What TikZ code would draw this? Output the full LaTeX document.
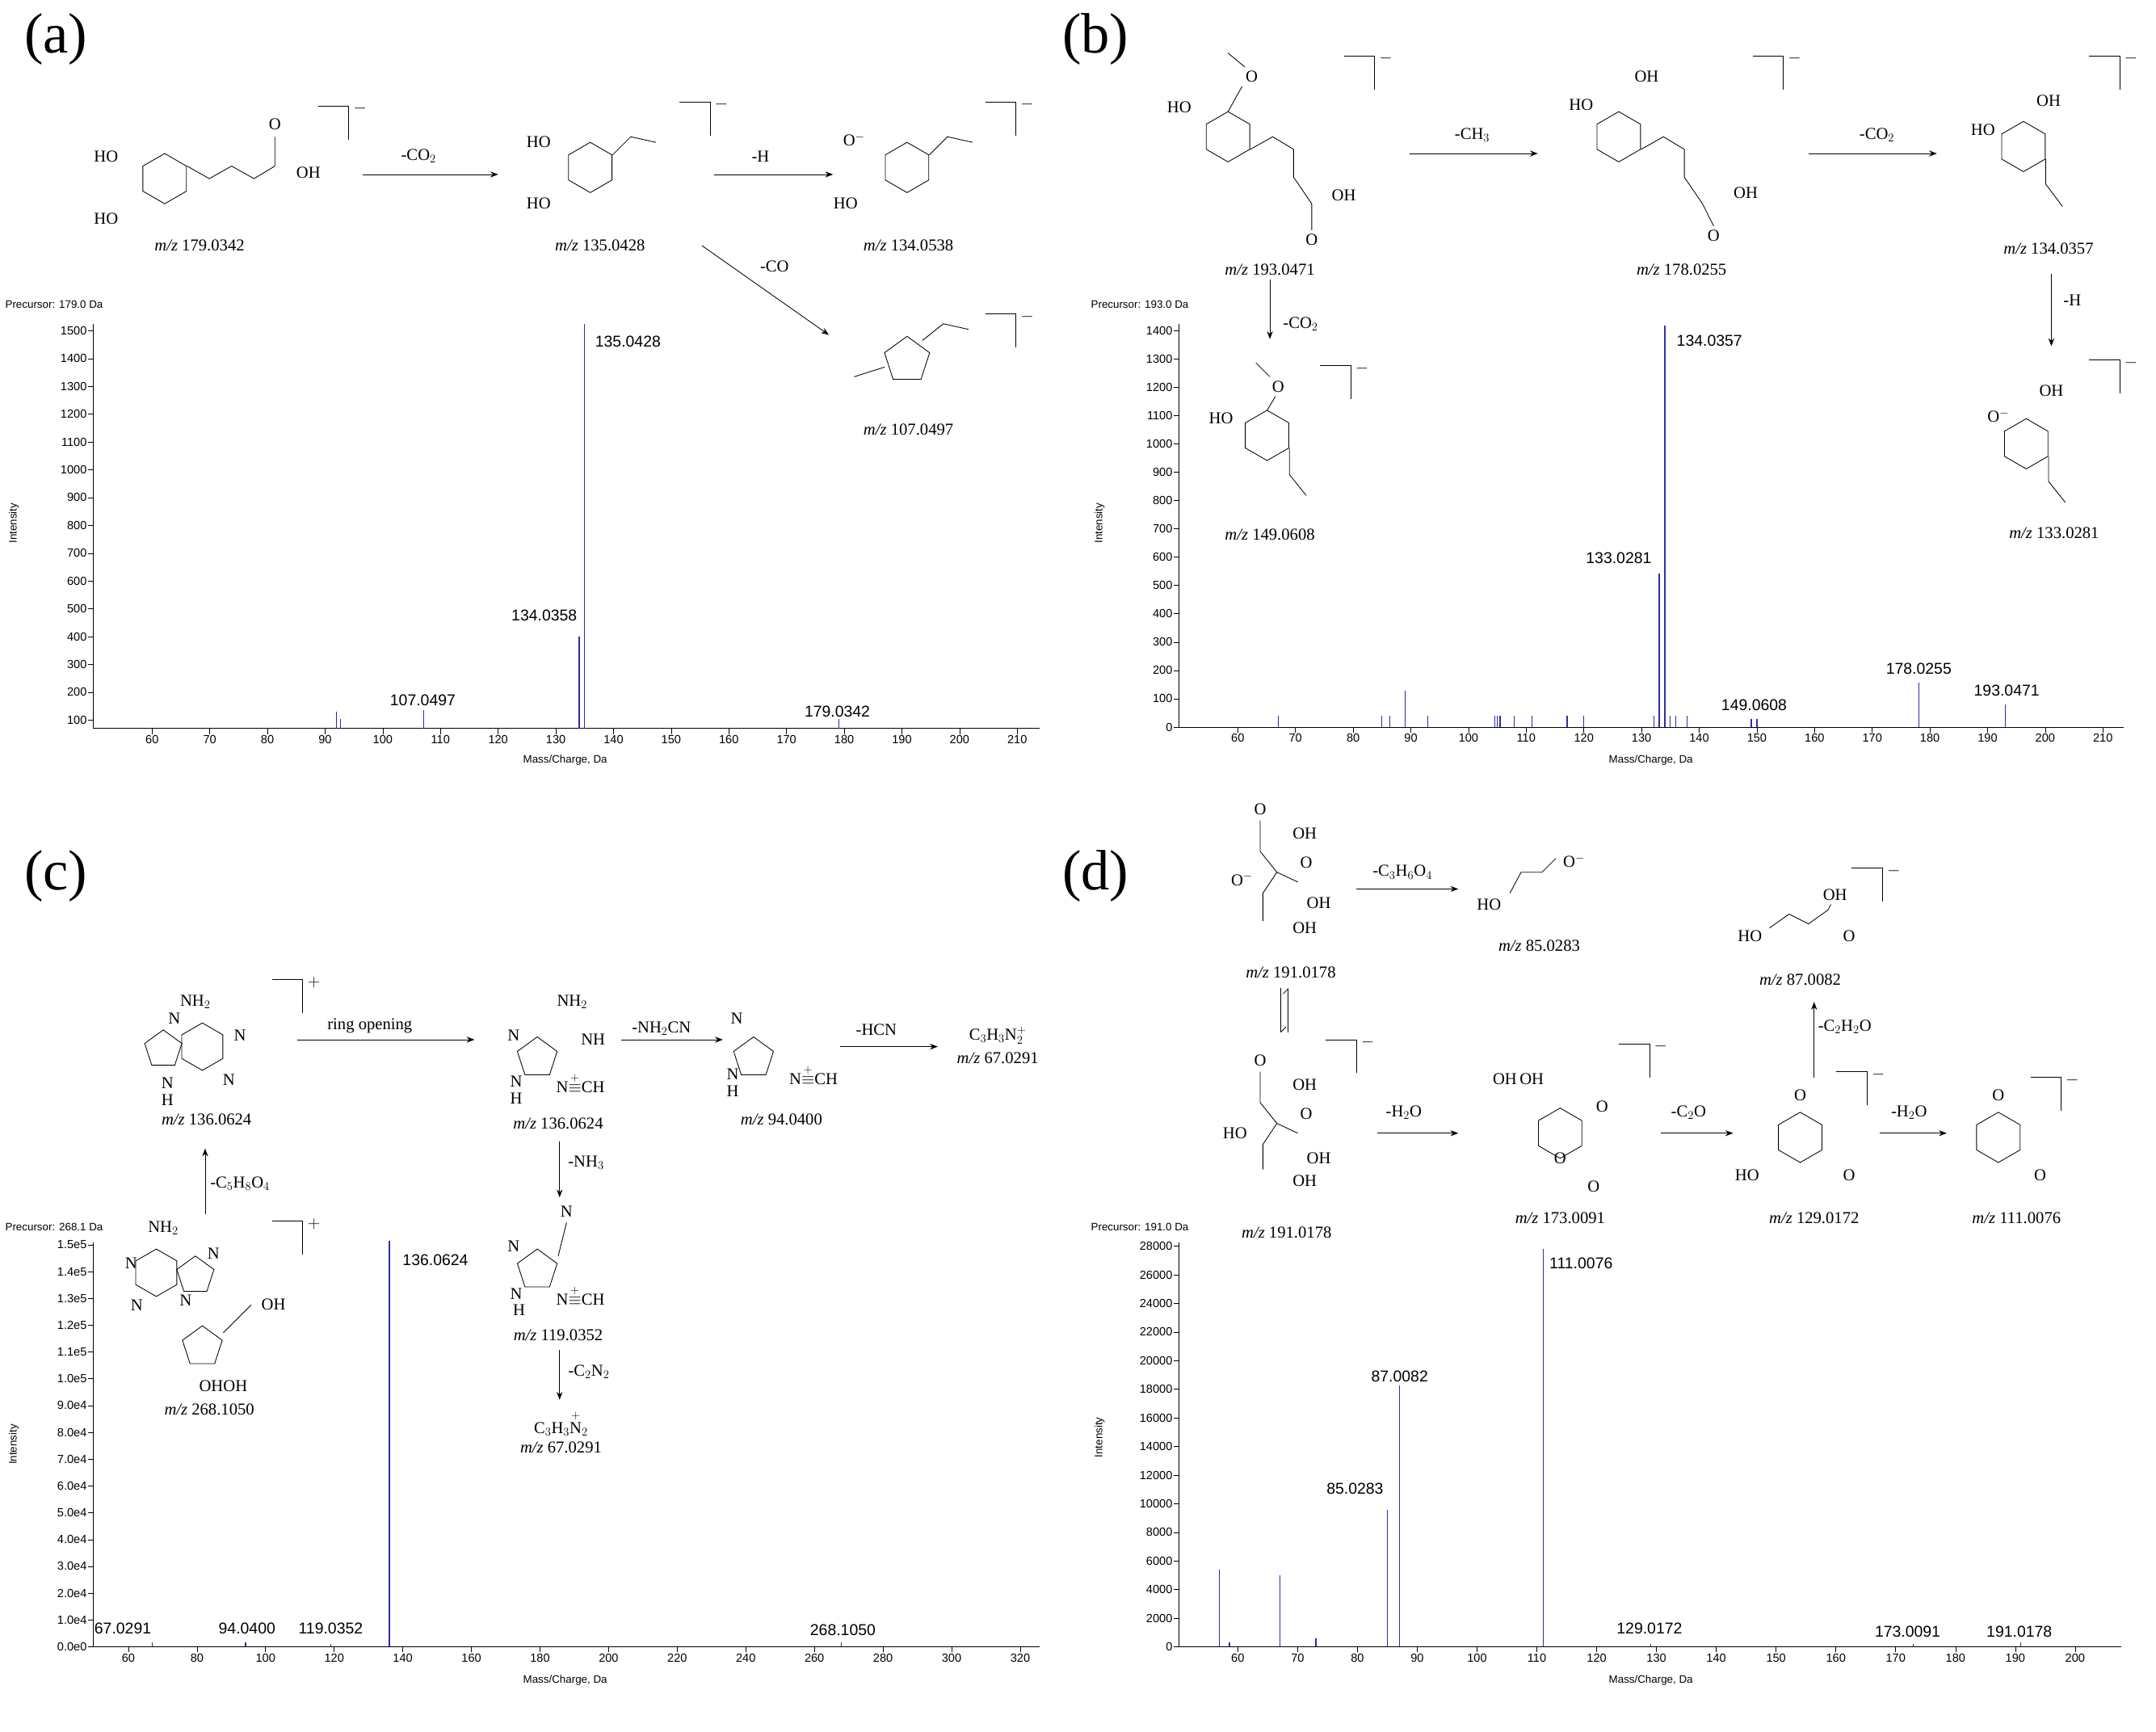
\documentclass[tikz,border=0pt]{standalone}
\usepackage{amsmath}
\usepackage{fontspec}
\setmainfont{Liberation Serif}
\setsansfont{Liberation Sans}
\usetikzlibrary{arrows.meta}
\definecolor{peakblue}{HTML}{2E2EA8}
\tikzset{
	lbl/.style = {inner sep=0.5pt, font=\fontsize{17}{19}\selectfont},
	mz/.style = {inner sep=0pt, font=\fontsize{17}{19}\selectfont},
	panel/.style = {inner sep=0pt, font=\fontsize{58}{60}\selectfont},
	tick/.style = {inner sep=1pt, font=\sffamily\fontsize{12}{13}\selectfont},
	plbl/.style = {inner sep=1pt, font=\sffamily\fontsize{16}{17}\selectfont},
	axisline/.style = {line width=0.5pt, black},
	peak/.style = {line width=1pt, peakblue},
	bond/.style = {line width=0.7pt},
	rxn/.style = {line width=0.7pt, -{Stealth[length=8pt]}}
}
\newcommand\hexring[3]{\draw[bond] (#1,#2) +(0,-#3) -- +(0.866*#3,-0.5*#3) -- +(0.866*#3,0.5*#3) -- +(0,#3) -- +(-0.866*#3,0.5*#3) -- +(-0.866*#3,-0.5*#3) -- cycle;}
\newcommand\pentring[3]{\draw[bond] (#1,#2) +(0,-#3) -- +(0.951*#3,-0.309*#3) -- +(0.588*#3,0.809*#3) -- +(-0.588*#3,0.809*#3) -- +(-0.951*#3,-0.309*#3) -- cycle;}
\newcommand\brkt[3]{\draw[bond] (#1,#2) -- ++(22,0) -- ++(0,24); \node[lbl] at (#1+30,#2+2) {$#3$};}
\newcommand\mzt[3]{\node[mz] at (#1,#2) {\textit{m/z} #3};}

\begin{document}
\begin{tikzpicture}[x=0.5mm, y=-0.5mm]
\useasboundingbox (0,0) rectangle (1545,1241);

% ---------- panel labels
\node[panel] (pa) at (40,28) {(a)};
\node[panel] (pb) at (785,28) {(b)};
\node[panel] (pc) at (40,628) {(c)};
\node[panel] (pd) at (785,628) {(d)};

% ---------- (a) structures
\hexring{118}{128}{18}
\node[lbl] (a1ho1) at (76,112) {HO};
\node[lbl] (a1ho2) at (76,157) {HO};
\draw[bond] (134,119) -- (150,128) -- (166,119) -- (182,128) -- (197,119) -- (197,98);
\node[lbl] (a1o) at (197,89) {O};
\node[lbl] (a1oh) at (221,124) {OH};
\brkt{228}{76}{-}
\mzt{143}{176}{179.0342}
\node[lbl] (a1loss) at (300,112) {-CO$_2$};
\draw[rxn] (260,125) -- (357,125);
\hexring{423}{120}{18}
\node[lbl] (a2ho1) at (386,102) {HO};
\node[lbl] (a2ho2) at (386,146) {HO};
\draw[bond] (439,111) -- (452,98) -- (470,102);
\brkt{487}{73}{-}
\mzt{430}{176}{135.0428}
\node[lbl] (a2loss) at (545,112) {-H};
\draw[rxn] (512,125) -- (597,125);
\hexring{650}{120}{18}
\node[lbl] (a3o) at (612,100) {O$^{-}$};
\node[lbl] (a3ho) at (606,146) {HO};
\draw[bond] (666,111) -- (679,98) -- (697,102);
\brkt{706}{73}{-}
\mzt{651}{176}{134.0538}
\node[lbl] (a3loss) at (555,191) {-CO};
\draw[rxn] (503,176) -- (594,240);
\pentring{650}{258}{17}
\draw[bond] (634,263) -- (612,270);
\draw[bond] (661,244) -- (676,232) -- (694,236);
\brkt{706}{225}{-}
\mzt{651}{308}{107.0497}

% ---------- (a) spectrum
\node[plbl, anchor=west, font=\sffamily\fontsize{11}{12}\selectfont] (aprec) at (3,218) {Precursor: 179.0 Da};
\node[plbl, rotate=90, font=\sffamily\fontsize{11}{12}\selectfont] (aint) at (10,375) {Intensity};
\node[plbl, font=\sffamily\fontsize{11}{12}\selectfont] (amass) at (405,545) {Mass/Charge, Da};
\draw[axisline] (67,232) -- (67,522) -- (745,522);
\foreach \m in {60,70,...,210} {
	\pgfmathsetmacro\xx{109+(\m-60)*4.133}
	\draw[axisline] (\xx,522) -- (\xx,526);
	\node[tick, anchor=north] at (\xx,526) {\m};
}
\foreach \v in {100,200,...,1500} {
	\pgfmathsetmacro\yy{516-(\v-100)*0.1993}
	\draw[axisline] (63,\yy) -- (67,\yy);
	\node[tick, anchor=east] at (63,\yy) {\v};
}
\foreach \px/\py in {241/510, 244/515, 303.5/509, 415/456, 419/232, 601/515}
	\draw[peak] (\px,522) -- (\px,\py);
\node[plbl] (a107) at (303,502) {107.0497};
\node[plbl] (a134) at (390,441) {134.0358};
\node[plbl] (a135) at (450,245) {135.0428};
\node[plbl] (a179) at (600,510) {179.0342};

% ---------- (b) structures
\hexring{880}{98}{18}
\node[lbl] (b1ho) at (845,77) {HO};
\node[lbl] (b1o) at (897,55) {O};
\draw[bond] (880,80) -- (890,62); \draw[bond] (892,48) -- (880,38);
\draw[bond] (896,107) -- (912,98) -- (927,107) -- (927,127) -- (940,146) -- (940,165);
\node[lbl] (b1oo) at (940,172) {O};
\node[lbl] (b1oh) at (963,140) {OH};
\brkt{963}{40}{-}
\mzt{910}{193}{193.0471}
\node[lbl] (b1loss) at (1055,97) {-CH$_3$};
\draw[rxn] (1010,110) -- (1102,110);
\hexring{1160}{98}{18}
\node[lbl] (b2ho) at (1133,75) {HO};
\node[lbl] (b2oh) at (1180,55) {OH};
\draw[bond] (1176,107) -- (1192,98) -- (1207,107) -- (1207,127) -- (1220,146) -- (1228,162);
\node[lbl] (b2oo) at (1228,169) {O};
\node[lbl] (b2oh2) at (1251,138) {OH};
\brkt{1256}{40}{-}
\mzt{1205}{193}{178.0255}
\node[lbl] (b2loss) at (1345,97) {-CO$_2$};
\draw[rxn] (1296,110) -- (1388,110);
\hexring{1450}{105}{18}
\node[lbl] (b3ho) at (1421,93) {HO};
\node[lbl] (b3oh) at (1468,72) {OH};
\draw[bond] (1466,114) -- (1466,132) -- (1478,148);
\brkt{1497}{40}{-}
\mzt{1468}{178}{134.0357}
\node[lbl] (b3loss) at (1485,215) {-H};
\draw[rxn] (1470,196) -- (1470,248);
\hexring{1452}{318}{18}
\node[lbl] (b4o) at (1432,298) {O$^{-}$};
\node[lbl] (b4oh) at (1470,280) {OH};
\draw[bond] (1468,327) -- (1468,345) -- (1480,360);
\brkt{1497}{258}{-}
\mzt{1472}{382}{133.0281}
\node[lbl] (b5loss) at (932,232) {-CO$_2$};
\draw[rxn] (910,200) -- (910,243);
\hexring{908}{312}{18}
\node[lbl] (b5ho) at (875,300) {HO};
\node[lbl] (b5o) at (916,277) {O};
\draw[bond] (908,294) -- (914,284); \draw[bond] (910,270) -- (900,260);
\draw[bond] (924,321) -- (924,340) -- (936,355);
\brkt{946}{262}{-}
\mzt{910}{383}{149.0608}

% ---------- (b) spectrum
\node[plbl, anchor=west, font=\sffamily\fontsize{11}{12}\selectfont] (bprec) at (781,218) {Precursor: 193.0 Da};
\node[plbl, rotate=90, font=\sffamily\fontsize{11}{12}\selectfont] (bint) at (788,375) {Intensity};
\node[plbl, font=\sffamily\fontsize{11}{12}\selectfont] (bmass) at (1183,545) {Mass/Charge, Da};
\draw[axisline] (845,232) -- (845,521) -- (1522,521);
\foreach \m in {60,70,...,210} {
	\pgfmathsetmacro\xx{887+(\m-60)*4.133}
	\draw[axisline] (\xx,521) -- (\xx,525);
	\node[tick, anchor=north] at (\xx,525) {\m};
}
\foreach \v in {0,100,...,1400} {
	\pgfmathsetmacro\yy{521-\v*0.203}
	\draw[axisline] (841,\yy) -- (845,\yy);
	\node[tick, anchor=east] at (841,\yy) {\v};
}
\foreach \px/\py in {916/513, 990/513, 996/513, 1007/495, 1023/513, 1071/513, 1073/513, 1075/513, 1085/513, 1098/513, 1123/513, 1135/513, 1185/513, 1189/411, 1193/233, 1197/513, 1201/513, 1209/513, 1255/515, 1259/515, 1375/489, 1437/505}
	\draw[peak] (\px,521) -- (\px,\py);
\node[plbl] (b133) at (1160,400) {133.0281};
\node[plbl] (b134) at (1225,244) {134.0357};
\node[plbl] (b149) at (1257,505) {149.0608};
\node[plbl] (b178) at (1375,479) {178.0255};
\node[plbl] (b193) at (1438,495) {193.0471};

% ---------- (c) structures
\hexring{145}{750}{17}
\pentring{117}{752}{14}
\node[lbl] (c1nh2) at (140,718) {NH$_2$};
\node[lbl] (c1n1) at (125,730) {N};
\node[lbl] (c1n2) at (172,742) {N};
\node[lbl] (c1n3) at (164,774) {N};
\node[lbl] (c1nh) at (120,776) {N};
\node[lbl] (c1h) at (120,788) {H};
\brkt{195}{702}{+}
\mzt{148}{802}{136.0624}
\node[lbl] (c1loss) at (265,735) {ring opening};
\draw[rxn] (213,745) -- (340,745);
\pentring{385}{758}{15}
\node[lbl] (c2nh2) at (410,718) {NH$_2$};
\node[lbl] (c2nh) at (425,745) {NH};
\node[lbl] (c2n) at (368,742) {N};
\node[lbl] (c2h) at (370,775) {N};
\node[lbl] (c2hh) at (370,787) {H};
\node[lbl] (c2nc) at (416,776) {N$\stackrel{+}{\equiv}$CH};
\mzt{400}{805}{136.0624}
\node[lbl] (c2loss) at (474,737) {-NH$_2$CN};
\draw[rxn] (445,745) -- (518,745);
\pentring{540}{758}{15}
\node[lbl] (c3n) at (528,730) {N};
\node[lbl] (c3h) at (525,770) {N};
\node[lbl] (c3hh) at (525,782) {H};
\node[lbl] (c3nc) at (583,770) {N$\stackrel{+}{\equiv}$CH};
\mzt{560}{802}{94.0400}
\node[lbl] (c3loss) at (628,738) {-HCN};
\draw[rxn] (602,750) -- (672,750);
\node[lbl] (c3p) at (715,742) {C$_3$H$_3$N$_2^+$};
\mzt{715}{758}{67.0291}
\node[lbl] (c4loss) at (420,833) {-NH$_3$};
\draw[rxn] (401,818) -- (401,858);
\pentring{385}{910}{15}
\node[lbl] (c4n) at (406,868) {N};
\draw[bond] (400,900) -- (406,876);
\node[lbl] (c4nn) at (368,893) {N};
\node[lbl] (c4h) at (370,927) {N};
\node[lbl] (c4hh) at (372,939) {H};
\node[lbl] (c4nc) at (416,928) {N$\stackrel{+}{\equiv}$CH};
\mzt{400}{957}{119.0352}
\node[lbl] (c5loss) at (422,983) {-C$_2$N$_2$};
\draw[rxn] (401,967) -- (401,1003);
\node[lbl] (c5p) at (402,1020) {C$_3$H$_3\overset{+}{\mathrm{N}}_2$};
\mzt{402}{1037}{67.0291}
\node[lbl] (c6loss) at (172,848) {-C$_5$H$_8$O$_4$};
\draw[rxn] (147,870) -- (147,823);
\hexring{112}{912}{17}
\pentring{140}{914}{14}
\node[lbl] (c6nh2) at (117,880) {NH$_2$};
\node[lbl] (c6n1) at (94,905) {N};
\node[lbl] (c6n2) at (98,935) {N};
\node[lbl] (c6n3) at (153,898) {N};
\node[lbl] (c6n4) at (133,932) {N};
\pentring{145}{965}{15}
\draw[bond] (160,955) -- (180,935);
\node[lbl] (c6oh) at (196,935) {OH};
\node[lbl] (c6ohoh) at (160,993) {OHOH};
\brkt{195}{875}{+}
\mzt{150}{1010}{268.1050}

% ---------- (c) spectrum
\node[plbl, anchor=west, font=\sffamily\fontsize{11}{12}\selectfont] (cprec) at (3,879) {Precursor: 268.1 Da};
\node[plbl, rotate=90, font=\sffamily\fontsize{11}{12}\selectfont] (cint) at (10,1035) {Intensity};
\node[plbl, font=\sffamily\fontsize{11}{12}\selectfont] (cmass) at (405,1204) {Mass/Charge, Da};
\draw[axisline] (67,890) -- (67,1180) -- (745,1180);
\foreach \m in {60,80,...,320} {
	\pgfmathsetmacro\xx{92+(\m-60)*2.458}
	\draw[axisline] (\xx,1180) -- (\xx,1184);
	\node[tick, anchor=north] at (\xx,1184) {\m};
}
\foreach \v/\t in {0/0.0e0,1/1.0e4,2/2.0e4,3/3.0e4,4/4.0e4,5/5.0e4,6/6.0e4,7/7.0e4,8/8.0e4,9/9.0e4,10/1.0e5,11/1.1e5,12/1.2e5,13/1.3e5,14/1.4e5,15/1.5e5} {
	\pgfmathsetmacro\yy{1180-\v*19.2}
	\draw[axisline] (63,\yy) -- (67,\yy);
	\node[tick, anchor=east] at (63,\yy) {\t};
}
\foreach \px/\py in {109/1177, 176/1177, 237/1178, 279/889, 603/1177}
	\draw[peak] (\px,1180) -- (\px,\py);
\node[plbl] (c67) at (88,1167) {67.0291};
\node[plbl] (c94) at (177,1167) {94.0400};
\node[plbl] (c119) at (237,1167) {119.0352};
\node[plbl] (c136) at (312,903) {136.0624};
\node[plbl] (c268) at (604,1168) {268.1050};

% ---------- (d) structures
\draw[bond] (903,588) -- (903,610) -- (915,625) -- (905,640) -- (905,660);
\draw[bond] (915,625) -- (930,632);
\node[lbl] (d1o1) at (903,580) {O};
\node[lbl] (d1oh1) at (935,597) {OH};
\node[lbl] (d1om) at (890,630) {O$^{-}$};
\node[lbl] (d1o2) at (936,618) {O};
\node[lbl] (d1oh2) at (945,647) {OH};
\node[lbl] (d1oh3) at (935,665) {OH};
\mzt{925}{697}{191.0178}
\node[lbl] (d1loss) at (1005,625) {-C$_3$H$_6$O$_4$};
\draw[rxn] (972,637) -- (1045,637);
\node[lbl] (d2ho) at (1067,648) {HO};
\draw[bond] (1082,640) -- (1090,625) -- (1105,625) -- (1115,615);
\node[lbl] (d2om) at (1128,617) {O$^{-}$};
\mzt{1103}{678}{85.0283}
\draw[bond, -{Straight Barb[left, length=5pt]}] (918,708) -- (918,740);
\draw[bond, -{Straight Barb[left, length=5pt]}] (923,740) -- (923,708);
\draw[bond] (903,768) -- (903,790) -- (915,805) -- (905,820) -- (905,838);
\draw[bond] (915,805) -- (930,812);
\node[lbl] (d3o1) at (903,760) {O};
\node[lbl] (d3oh1) at (935,777) {OH};
\node[lbl] (d3ho) at (885,812) {HO};
\node[lbl] (d3o2) at (936,798) {O};
\node[lbl] (d3oh2) at (945,830) {OH};
\node[lbl] (d3oh3) at (935,846) {OH};
\brkt{950}{745}{-}
\mzt{922}{883}{191.0178}
\node[lbl] (d3loss) at (1006,797) {-H$_2$O};
\draw[rxn] (987,812) -- (1045,812);
\hexring{1118}{812}{18}
\node[lbl] (d4ohoh) at (1088,773) {OH\,OH};
\node[lbl] (d4o1) at (1148,793) {O};
\node[lbl] (d4o2) at (1118,830) {O};
\node[lbl] (d4o3) at (1142,850) {O};
\brkt{1160}{748}{-}
\mzt{1118}{873}{173.0091}
\node[lbl] (d4loss) at (1210,797) {-C$_2$O};
\draw[rxn] (1190,812) -- (1242,812);
\hexring{1290}{815}{18}
\node[lbl] (d5o1) at (1290,785) {O};
\node[lbl] (d5o2) at (1325,842) {O};
\node[lbl] (d5ho) at (1252,842) {HO};
\brkt{1316}{768}{-}
\mzt{1300}{873}{129.0172}
\node[lbl] (d5loss) at (1322,736) {-C$_2$H$_2$O};
\draw[rxn] (1300,772) -- (1300,718);
\node[lbl] (d6ho) at (1254,671) {HO};
\draw[bond] (1268,665) -- (1282,655) -- (1296,662) -- (1310,652) -- (1312,648);
\node[lbl] (d6oh) at (1315,641) {OH};
\node[lbl] (d6o) at (1325,671) {O};
\brkt{1327}{622}{-}
\mzt{1290}{702}{87.0082}
\node[lbl] (d6loss) at (1368,797) {-H$_2$O};
\draw[rxn] (1347,812) -- (1395,812);
\hexring{1432}{815}{18}
\node[lbl] (d7o1) at (1432,785) {O};
\node[lbl] (d7o2) at (1462,842) {O};
\brkt{1455}{772}{-}
\mzt{1445}{873}{111.0076}

% ---------- (d) spectrum
\node[plbl, anchor=west, font=\sffamily\fontsize{11}{12}\selectfont] (dprec) at (781,879) {Precursor: 191.0 Da};
\node[plbl, rotate=90, font=\sffamily\fontsize{11}{12}\selectfont] (dint) at (788,1030) {Intensity};
\node[plbl, font=\sffamily\fontsize{11}{12}\selectfont] (dmass) at (1183,1204) {Mass/Charge, Da};
\draw[axisline] (845,890) -- (845,1180) -- (1520,1180);
\foreach \m in {60,70,...,200} {
	\pgfmathsetmacro\xx{887+(\m-60)*4.286}
	\draw[axisline] (\xx,1180) -- (\xx,1184);
	\node[tick, anchor=north] at (\xx,1184) {\m};
}
\foreach \v in {0,2,...,28} {
	\pgfmathsetmacro\yy{1180-\v*10.25}
	\draw[axisline] (841,\yy) -- (845,\yy);
	\node[tick, anchor=east] at (841,\yy) {\ifnum\v=0 0\else\v000\fi};
}
\foreach \px/\py in {874/1125, 881/1177, 917/1129, 943/1174, 994/1082, 1003/993, 1106/895, 1183/1178, 1371/1178, 1448/1177}
	\draw[peak] (\px,1180) -- (\px,\py);
\node[plbl] (d85) at (971,1067) {85.0283};
\node[plbl] (d87) at (1003,986) {87.0082};
\node[plbl] (d111) at (1133,905) {111.0076};
\node[plbl] (d129) at (1182,1167) {129.0172};
\node[plbl] (d173) at (1367,1169) {173.0091};
\node[plbl] (d191) at (1447,1169) {191.0178};
\end{tikzpicture}
\end{document}
